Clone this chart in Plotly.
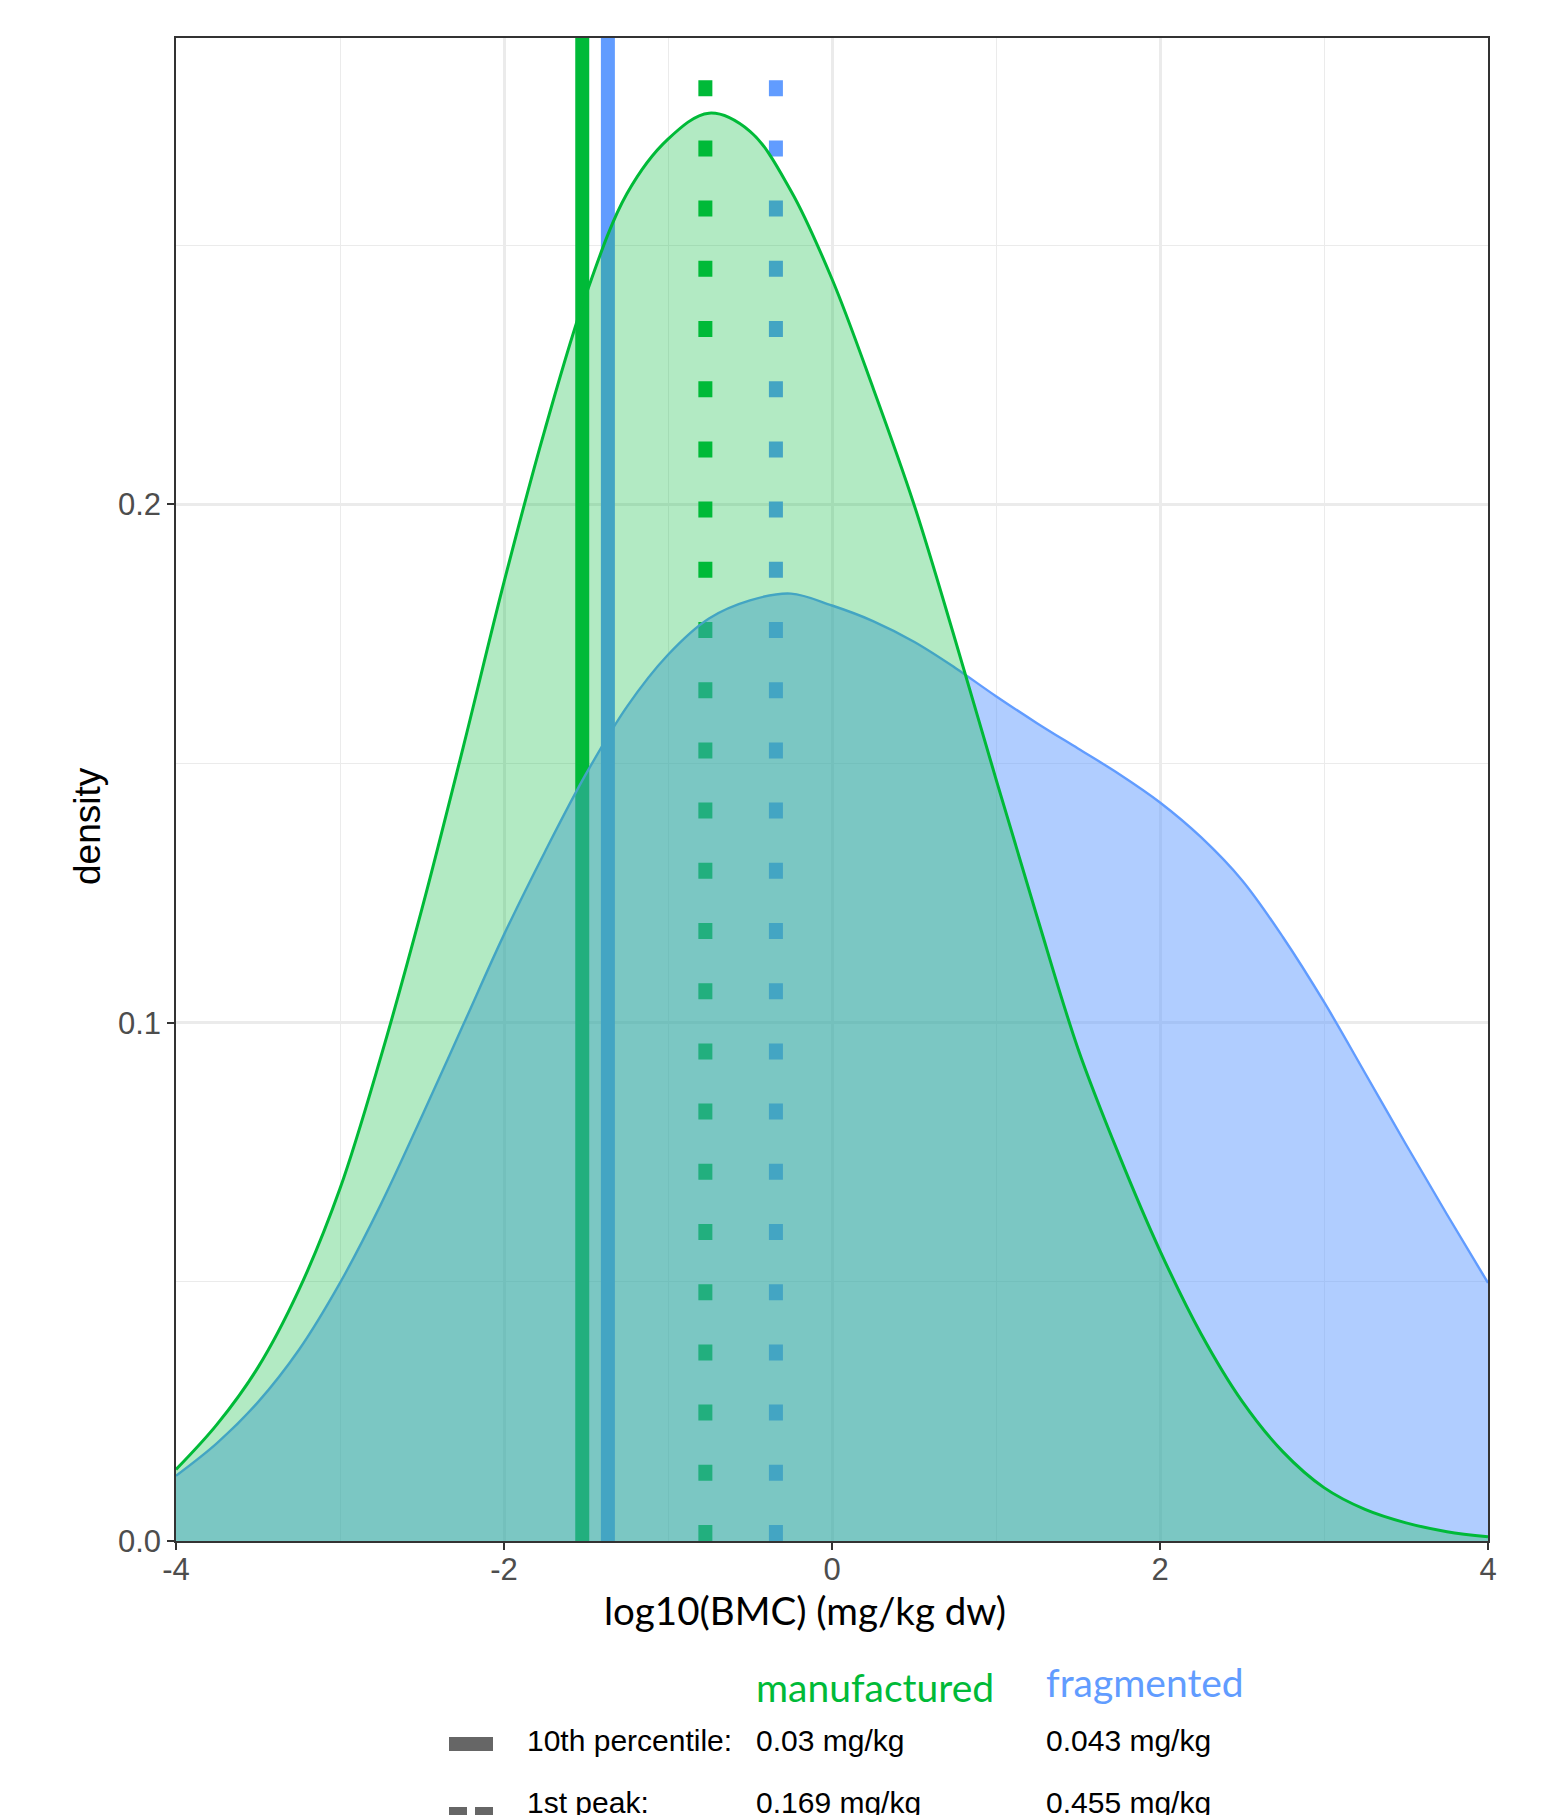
import numpy as np
import plotly.graph_objects as go

# ---------------- data ----------------
log_bmc = [-4.00, -3.75, -3.50, -3.25, -3.00, -2.75, -2.50, -2.25, -2.00, -1.75,
           -1.50, -1.25, -1.00, -0.75, -0.50, -0.25, 0.00, 0.25, 0.50, 0.75,
           1.00, 1.25, 1.50, 1.75, 2.00, 2.25, 2.50, 2.75, 3.00, 3.25,
           3.50, 3.75, 4.00]

manufactured_density = [0.0138, 0.0225, 0.0335, 0.0485, 0.068, 0.0935, 0.122, 0.153, 0.185, 0.2145,
                        0.2405, 0.2600, 0.2705, 0.2755, 0.2720, 0.2605, 0.2435, 0.2225, 0.200, 0.174,
                        0.147, 0.1205, 0.095, 0.0745, 0.056, 0.040, 0.027, 0.0172, 0.0103, 0.0061,
                        0.0035, 0.0018, 0.0008]

fragmented_density = [0.0126, 0.0189, 0.0268, 0.0369, 0.0498, 0.065, 0.082, 0.0995, 0.117, 0.133,
                      0.148, 0.161, 0.171, 0.178, 0.1815, 0.1828, 0.1805, 0.1775, 0.1735, 0.1685,
                      0.1630, 0.1578, 0.1529, 0.1480, 0.1425, 0.1358, 0.1275, 0.1165, 0.1040, 0.0903,
                      0.0765, 0.0630, 0.0498]

groups = ["manufactured", "fragmented"]
percentile10_mgkg = [0.03, 0.043]
first_peak_mgkg = [0.169, 0.455]
row_labels = ["10th percentile:", "1st peak:"]
x_ticks = [-4, -2, 0, 2, 4]
y_ticks = [0.0, 0.1, 0.2]

# ---------------- styling ----------------
GREEN = "#00BA38"
BLUE = "#619CFF"
OFF = 8                      # page body margin of the html page
W, H = 1544 - OFF, 1815 - OFF
# plot panel in screen pixels
L, R, T, B = 176, 1488, 38, 1541
Y_MAX = 0.29

def px(X):
    return (X - L) / (R - L)

def py(Y):
    return (B - Y) / (B - T)

fig = go.Figure()

# vertical reference lines (drawn first, under the densities)
for val, col in zip(percentile10_mgkg, [GREEN, BLUE]):
    xv = float(np.log10(val))
    fig.add_trace(go.Scatter(x=[xv, xv], y=[0, Y_MAX], mode="lines",
                             line=dict(color=col, width=14), hoverinfo="skip",
                             showlegend=False))
for val, col in zip(first_peak_mgkg, [GREEN, BLUE]):
    xv = float(np.log10(val))
    fig.add_trace(go.Scatter(x=[xv, xv], y=[0, Y_MAX], mode="lines",
                             line=dict(color=col, width=14, dash="16px,44.2px"),
                             hoverinfo="skip", showlegend=False))

# densities: fragmented underneath, manufactured on top
fig.add_trace(go.Scatter(x=log_bmc, y=fragmented_density, mode="lines",
                         line=dict(color=BLUE, width=2.4, shape="spline", smoothing=1.0),
                         fill="tozeroy", fillcolor="rgba(97,156,255,0.5)",
                         name="fragmented", showlegend=False))
fig.add_trace(go.Scatter(x=log_bmc, y=manufactured_density, mode="lines",
                         line=dict(color=GREEN, width=3, shape="spline", smoothing=1.0),
                         fill="tozeroy", fillcolor="rgba(0,186,56,0.3)",
                         name="manufactured", showlegend=False))

axis_common = dict(
    showline=True, linecolor="#333333", linewidth=1.5, mirror=True,
    ticks="outside", ticklen=7, tickwidth=2, tickcolor="#333333",
    tickfont=dict(family="Liberation Sans, Arial, sans-serif", size=31, color="#4D4D4D"),
    showgrid=True, gridcolor="#EBEBEB", gridwidth=2.6, zeroline=False,
)

fig.update_xaxes(range=[-4, 4], tickmode="array", tickvals=x_ticks,
                 ticktext=[str(v) for v in x_ticks], ticklabelstandoff=-7,
                 minor=dict(dtick=1, tick0=-4, showgrid=True, gridcolor="#EBEBEB",
                            gridwidth=1.4, ticks=""),
                 **axis_common)
fig.update_yaxes(range=[0, Y_MAX], tickmode="array", tickvals=y_ticks,
                 ticktext=[f"{v:.1f}" for v in y_ticks],
                 minor=dict(dtick=0.05, tick0=0, showgrid=True, gridcolor="#EBEBEB",
                            gridwidth=1.4, ticks=""),
                 **axis_common)

ann = []
# axis titles
ann.append(dict(text="log10(BMC) (mg/kg dw)", x=px(805), y=py(1610), xref="paper", yref="paper",
                xanchor="center", yanchor="middle", showarrow=False,
                font=dict(family="Lato, Carlito, sans-serif", size=38.5, color="#000000")))
ann.append(dict(text="density", x=px(87), y=py(826), xref="paper", yref="paper",
                xanchor="center", yanchor="middle", showarrow=False, textangle=-90,
                font=dict(family="Liberation Sans, Arial, sans-serif", size=37, color="#000000")))

# custom legend table
col_x = [754, 1044]
head_mid = [1687, 1682]
for g, c, cx, hy in zip(groups, [GREEN, BLUE], col_x, head_mid):
    ann.append(dict(text=g, x=px(cx), y=py(hy), xref="paper", yref="paper",
                    xanchor="left", yanchor="middle", showarrow=False,
                    font=dict(family="Lato, Carlito, sans-serif", size=39, color=c)))

row_mid = [1740, 1802]
row_vals = [percentile10_mgkg, first_peak_mgkg]
for lab, vals, ry in zip(row_labels, row_vals, row_mid):
    ann.append(dict(text=lab, x=px(525), y=py(ry), xref="paper", yref="paper",
                    xanchor="left", yanchor="middle", showarrow=False,
                    font=dict(family="Liberation Sans, Arial, sans-serif", size=30, color="#000000")))
    for v, cx in zip(vals, col_x):
        ann.append(dict(text=f"{v:g} mg/kg", x=px(cx), y=py(ry), xref="paper", yref="paper",
                        xanchor="left", yanchor="middle", showarrow=False,
                        font=dict(family="Liberation Sans, Arial, sans-serif", size=30, color="#000000")))

shapes = [
    dict(type="rect", xref="paper", yref="paper", x0=px(449), x1=px(493), y0=py(1751), y1=py(1737),
         fillcolor="#666666", line=dict(width=0)),
    dict(type="rect", xref="paper", yref="paper", x0=px(449), x1=px(467), y0=py(1822), y1=py(1807),
         fillcolor="#666666", line=dict(width=0)),
    dict(type="rect", xref="paper", yref="paper", x0=px(475), x1=px(493), y0=py(1822), y1=py(1807),
         fillcolor="#666666", line=dict(width=0)),
]

fig.update_layout(
    width=W, height=H,
    margin=dict(l=L - OFF, r=(W + OFF) - R, t=T - OFF, b=(H + OFF) - B, autoexpand=False),
    paper_bgcolor="white", plot_bgcolor="white",
    annotations=ann, shapes=shapes, showlegend=False,
)

fig.write_html("out.html")
